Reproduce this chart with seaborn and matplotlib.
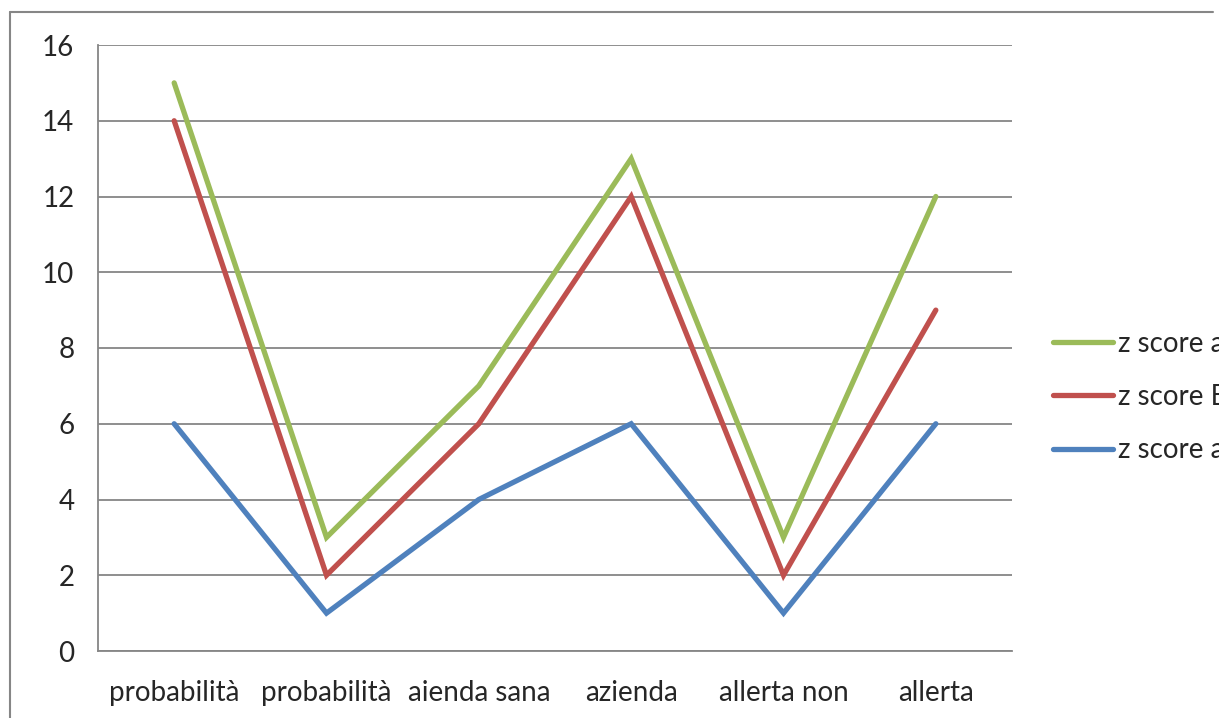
import matplotlib
matplotlib.use("Agg")
import matplotlib.pyplot as plt
import seaborn as sns
import pandas as pd
import numpy as np
from matplotlib.lines import Line2D

categories = ["probabilità", "probabilità", "aienda sana", "azienda", "allerta non", "allerta"]
series_names = ["z score a", "z score B", "z score a "]
green_values = [15, 3, 7, 13, 3, 12]
red_values = [14, 2, 6, 12, 2, 9]
blue_values = [6, 1, 4, 6, 1, 6]
y_ticks = [0, 2, 4, 6, 8, 10, 12, 14, 16]

colors = ["#9BBB59", "#C0504D", "#4F81BD"]

sns.set_theme(style="white")
plt.rcParams["font.family"] = ["Lato", "DejaVu Sans"]

rows = []
for name, vals in zip(series_names, [green_values, red_values, blue_values]):
    for i, v in enumerate(vals):
        rows.append({"pos": i, "value": v, "series": name})
df = pd.DataFrame(rows)

W, H = 1219, 718
FS = 20
fig = plt.figure(figsize=(W / 100, H / 100), dpi=100)
ax = fig.add_axes([98 / W, 1 - 651 / H, (1012 - 98) / W, (651 - 45) / H])

# draw series back to front so green sits on top of red, red on blue
for name, col in reversed(list(zip(series_names, colors))):
    sub = df[df["series"] == name]
    sns.lineplot(data=sub, x="pos", y="value", ax=ax, color=col, linewidth=3.8,
                 legend=False, solid_capstyle="round", solid_joinstyle="miter", zorder=3)

ax.set_xlim(-0.5, len(categories) - 0.5)
ax.set_ylim(0, 16)
ax.set_yticks(y_ticks)
ax.set_yticklabels([str(t) for t in y_ticks], fontsize=FS)
ax.set_xticks(range(len(categories)))
ax.set_xticklabels(categories, fontsize=FS)
ax.set_xticks(np.arange(-0.5, len(categories), 1.0), minor=True)
ax.tick_params(axis="x", which="major", length=0, pad=21)
ax.tick_params(axis="x", which="minor", length=10, width=1.3, color="#868686", direction="out")
ax.tick_params(axis="y", length=8, width=1.3, color="#868686", direction="out", pad=9)
ax.set_xlabel("")
ax.set_ylabel("")

ax.grid(axis="y", color="#868686", linewidth=1.3, zorder=1)
ax.grid(axis="x", visible=False)
for side in ["top", "right"]:
    ax.spines[side].set_visible(False)
for side in ["left", "bottom"]:
    ax.spines[side].set_color("#868686")
    ax.spines[side].set_linewidth(1.3)

handles = [Line2D([0], [0], color=c, linewidth=3.8, solid_capstyle="round") for c in colors]
fig.legend(handles, series_names, loc="upper left",
           bbox_to_anchor=(1053 / W, 1 - 331 / H), frameon=False, fontsize=FS,
           handlelength=2.15, handletextpad=0.2, labelspacing=0.98, borderaxespad=0,
           borderpad=0)

# outer chart border
fig.add_artist(Line2D([10 / W, 10 / W], [0, 1 - 12 / H], color="#868686", linewidth=1.5))
fig.add_artist(Line2D([10 / W, 1213 / W], [1 - 12 / H, 1 - 12 / H], color="#868686", linewidth=1.5))

fig.savefig("out.png", dpi=100)
